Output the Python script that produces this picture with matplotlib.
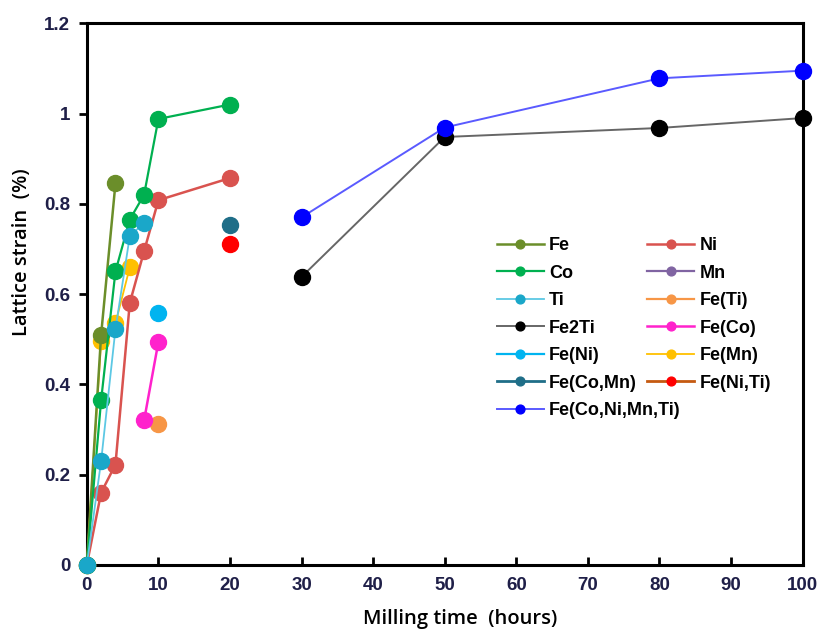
import matplotlib
matplotlib.use("Agg")
from matplotlib import pyplot as plt
from matplotlib.ticker import FuncFormatter

# milling time (hours) and lattice strain (%) per sample
fe_t = [0, 2, 4]
fe_s = [0, 0.51, 0.845]

co_t = [0, 2, 4, 6, 8, 10, 20]
co_s = [0, 0.365, 0.65, 0.765, 0.82, 0.988, 1.02]

ni_t = [0, 2, 4, 6, 8, 10, 20]
ni_s = [0, 0.16, 0.222, 0.58, 0.695, 0.808, 0.857]

mn_t = []
mn_s = []

ti_t = [0, 2, 4, 6, 8]
ti_s = [0, 0.23, 0.522, 0.728, 0.758]

fe_ti_t = [10]
fe_ti_s = [0.311]

fe2ti_t = [30, 50, 80, 100]
fe2ti_s = [0.638, 0.948, 0.968, 0.99]

fe_co_t = [8, 10]
fe_co_s = [0.32, 0.494]

fe_ni_t = [10]
fe_ni_s = [0.558]

fe_mn_t = [0, 2, 4, 6]
fe_mn_s = [0, 0.495, 0.535, 0.659]

fe_comn_t = [20]
fe_comn_s = [0.754]

fe_niti_t = [20]
fe_niti_s = [0.712]

hea_t = [30, 50, 80, 100]
hea_s = [0.77, 0.969, 1.078, 1.095]

x_ticks = [0, 10, 20, 30, 40, 50, 60, 70, 80, 90, 100]
y_ticks = [0, 0.2, 0.4, 0.6, 0.8, 1.0, 1.2]

fig = plt.figure(figsize=(8.19, 6.29), dpi=100)
ax = fig.add_axes([0.106, 0.102, 0.874, 0.861])

ms = 11.5
series = {}

def draw(t, s, label, lcolor, mcolor, lw=1.3, z=3):
    ln, = ax.plot(t, s, "-o", color=lcolor, markerfacecolor=mcolor, markeredgecolor=mcolor,
                  markersize=ms, linewidth=lw, clip_on=False, zorder=z, label=label)
    series[label] = ln

draw(fe_mn_t, fe_mn_s, "Fe(Mn)", "#ffc000", "#ffc000", 1.3, 3)
draw(ni_t, ni_s, "Ni", "#d9534f", "#d9534f", 1.8, 3)
draw(fe_t, fe_s, "Fe", "#6b8e2a", "#6b8e2a", 1.8, 3)
draw(co_t, co_s, "Co", "#00b050", "#00b050", 1.6, 3)
draw(mn_t, mn_s, "Mn", "#8064a2", "#8064a2", 1.6, 3)
draw(ti_t, ti_s, "Ti", "#5cc8e4", "#1aa7c9", 1.3, 4)
draw(fe_ti_t, fe_ti_s, "Fe(Ti)", "#f79646", "#f79646", 1.6, 3)
draw(fe2ti_t, fe2ti_s, "Fe2Ti", "#666666", "#000000", 1.4, 3)
draw(fe_co_t, fe_co_s, "Fe(Co)", "#ff22cc", "#ff22cc", 1.8, 3)
draw(fe_ni_t, fe_ni_s, "Fe(Ni)", "#00b4f0", "#00b4f0", 1.6, 3)
draw(fe_comn_t, fe_comn_s, "Fe(Co,Mn)", "#1f6e88", "#1f6e88", 2.0, 3)
draw(fe_niti_t, fe_niti_s, "Fe(Ni,Ti)", "#c55a11", "#ff0000", 2.0, 3)
draw(hea_t, hea_s, "Fe(Co,Ni,Mn,Ti)", "#5a5aff", "#0000ff", 1.4, 4)

ax.set_xlim(0, 100)
ax.set_ylim(0, 1.2)
ax.set_xticks(x_ticks)
ax.set_yticks(y_ticks)
ax.yaxis.set_major_formatter(FuncFormatter(lambda v, p: "%g" % v))

for sp in ax.spines.values():
    sp.set_linewidth(2.2)
    sp.set_color("black")

ax.tick_params(axis="x", direction="in", length=6, width=2, pad=9)
ax.tick_params(axis="y", direction="out", length=6, width=2, pad=6)
for lab in ax.get_xticklabels() + ax.get_yticklabels():
    lab.set_fontweight("bold")
    lab.set_fontsize(13.5)
    lab.set_color("#1f1f48")
    lab.set_fontfamily("Liberation Sans")

ax.set_xlabel("Milling time  (hours)", fontsize=14.5, fontfamily="Open Sans",
              fontweight="semibold")
ax.set_ylabel("Lattice strain  (%)", fontsize=14.5, fontfamily="Open Sans",
              fontweight="semibold")
ax.xaxis.set_label_coords(0.522, -0.082)
ax.yaxis.set_label_coords(-0.076, 0.577)

order = ["Fe", "Co", "Ti", "Fe2Ti", "Fe(Ni)", "Fe(Co,Mn)", "Fe(Co,Ni,Mn,Ti)",
         "Ni", "Mn", "Fe(Ti)", "Fe(Co)", "Fe(Mn)", "Fe(Ni,Ti)"]
leg = ax.legend([series[k] for k in order], order, ncol=2, loc="upper left",
                bbox_to_anchor=(0.55, 0.635), frameon=False, markerscale=0.55,
                handlelength=2.6, handletextpad=0.3, columnspacing=-1.85,
                labelspacing=0.58, prop={"family": "Liberation Sans", "weight": "bold", "size": 13})

fig.savefig("out.png", dpi=100)
